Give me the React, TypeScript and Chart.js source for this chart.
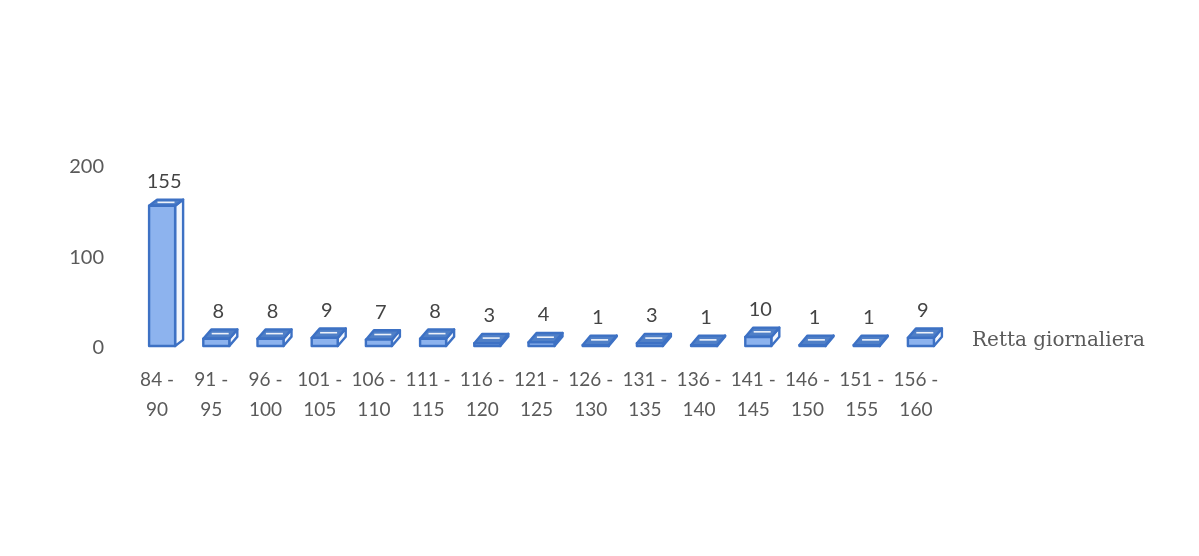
import React, { useEffect, useRef } from "react";
import { Chart, registerables } from "chart.js";

Chart.register(...registerables);

const categories: string[][] = [
  ["84 -", "90"],
  ["91 -", "95"],
  ["96 -", "100"],
  ["101 -", "105"],
  ["106 -", "110"],
  ["111 -", "115"],
  ["116 -", "120"],
  ["121 -", "125"],
  ["126 -", "130"],
  ["131 -", "135"],
  ["136 -", "140"],
  ["141 -", "145"],
  ["146 -", "150"],
  ["151 -", "155"],
  ["156 -", "160"],
];

const values: number[] = [155, 8, 8, 9, 7, 8, 3, 4, 1, 3, 1, 10, 1, 1, 9];

const axisTitle = "Retta giornaliera";
const yTicks: number[] = [0, 100, 200];

const NUM_FONT = "Lato, 'Open Sans', sans-serif";
const TEXT_GRAY = "#5a5a5a";
const STROKE = "#3d71c4";
const TOP_FILL = "#4f7fc7";
const FRONT_FILL = "#8db3ee";
const SIDE_FILL = "#f3f7fd";

// Geometry of one 3D box, derived from the bar element's pixel props.
function boxGeom(bar: any) {
  const { x, y, base, width } = bar.getProps(["x", "y", "base", "width"], true);
  const shift = 5;
  const left = x - width / 2 + shift;
  const right = x + width / 2 + shift;
  const bottom = base - 2;
  const top = y - 2;
  const dx = 8;
  const t = Math.min(1, Math.max(0, (top - 200) / 145));
  const depth = 6 + 3.5 * t;
  return { left, right, bottom, top, dx, depth };
}

const box3d = {
  id: "box3d",
  afterDatasetsDraw(chart: any) {
    const ctx = chart.ctx as CanvasRenderingContext2D;
    const meta = chart.getDatasetMeta(0);
    ctx.save();
    ctx.lineJoin = "round";
    meta.data.forEach((bar: any) => {
      const { left, right, bottom, top, dx, depth } = boxGeom(bar);
      ctx.lineWidth = 2.4;
      ctx.strokeStyle = STROKE;
      // right side face
      ctx.beginPath();
      ctx.moveTo(right, top);
      ctx.lineTo(right + dx, top - depth);
      ctx.lineTo(right + dx, bottom - depth);
      ctx.lineTo(right, bottom);
      ctx.closePath();
      ctx.fillStyle = SIDE_FILL;
      ctx.fill();
      ctx.stroke();
      // top face
      ctx.beginPath();
      ctx.moveTo(left, top);
      ctx.lineTo(left + dx, top - depth);
      ctx.lineTo(right + dx, top - depth);
      ctx.lineTo(right, top);
      ctx.closePath();
      ctx.fillStyle = TOP_FILL;
      ctx.fill();
      ctx.stroke();
      // highlight on the top face
      ctx.beginPath();
      ctx.moveTo(left + dx * 0.55 + 4, top - depth * 0.55);
      ctx.lineTo(right + dx * 0.55 - 5, top - depth * 0.55);
      ctx.strokeStyle = "rgba(255,255,255,0.9)";
      ctx.lineWidth = 1.6;
      ctx.stroke();
      // front face
      ctx.lineWidth = 2.4;
      ctx.strokeStyle = STROKE;
      ctx.beginPath();
      ctx.rect(left, top, right - left, bottom - top);
      ctx.fillStyle = FRONT_FILL;
      ctx.fill();
      ctx.stroke();
    });
    ctx.restore();
  },
};

const valueLabels = {
  id: "valueLabels",
  afterDatasetsDraw(chart: any) {
    const ctx = chart.ctx as CanvasRenderingContext2D;
    const meta = chart.getDatasetMeta(0);
    ctx.save();
    ctx.font = `20px ${NUM_FONT}`;
    ctx.fillStyle = "#444444";
    ctx.textAlign = "center";
    ctx.textBaseline = "middle";
    meta.data.forEach((bar: any, i: number) => {
      const { left, right, top, dx, depth } = boxGeom(bar);
      const cx = (left + right) / 2 + dx / 2 - 2;
      ctx.fillText(String(values[i]), cx, top - depth - 18);
    });
    ctx.restore();
  },
};

const sideTitle = {
  id: "sideTitle",
  afterDraw(chart: any) {
    const ctx = chart.ctx as CanvasRenderingContext2D;
    const { chartArea } = chart;
    const y0 = chart.scales.y.getPixelForValue(0);
    ctx.save();
    ctx.font = "20px 'DejaVu Serif', serif";
    ctx.fillStyle = TEXT_GRAY;
    ctx.textAlign = "left";
    ctx.textBaseline = "middle";
    ctx.fillText(axisTitle, chartArea.right + 29, y0 - 7);
    ctx.restore();
  },
};

export default function App() {
  const canvasRef = useRef<HTMLCanvasElement | null>(null);

  useEffect(() => {
    if (!canvasRef.current) return;
    const chart = new Chart(canvasRef.current, {
      type: "bar",
      data: {
        labels: categories,
        datasets: [
          {
            data: values,
            backgroundColor: "rgba(0,0,0,0)",
            borderWidth: 0,
            barPercentage: 0.48,
            categoryPercentage: 1,
          },
        ],
      },
      options: {
        animation: false,
        responsive: true,
        maintainAspectRatio: false,
        layout: { padding: { left: 0, right: 256, top: 167, bottom: 0 } },
        plugins: {
          legend: { display: false },
          tooltip: { enabled: false },
        },
        scales: {
          x: {
            grid: { display: false, drawTicks: false },
            border: { display: false },
            ticks: {
              color: TEXT_GRAY,
              font: { family: NUM_FONT, size: 19, lineHeight: 30 / 19 },
              padding: 17,
              maxRotation: 0,
              autoSkip: false,
            },
            afterFit(scale: any) {
              scale.height = 208;
            },
          },
          y: {
            min: 0,
            max: 200,
            afterBuildTicks(scale: any) {
              scale.ticks = yTicks.map((v) => ({ value: v }));
            },
            grid: { display: false, drawTicks: false },
            border: { display: false },
            ticks: {
              color: TEXT_GRAY,
              font: { family: NUM_FONT, size: 20 },
              padding: 26,
            },
            afterFit(scale: any) {
              scale.width = 130;
            },
          },
        },
      },
      plugins: [box3d, valueLabels, sideTitle],
    });
    return () => chart.destroy();
  }, []);

  return (
    <div
      style={{
        position: "fixed",
        left: 0,
        top: 0,
        width: 1199,
        height: 556,
        background: "#fff",
      }}
    >
      <canvas ref={canvasRef} />
    </div>
  );
}
